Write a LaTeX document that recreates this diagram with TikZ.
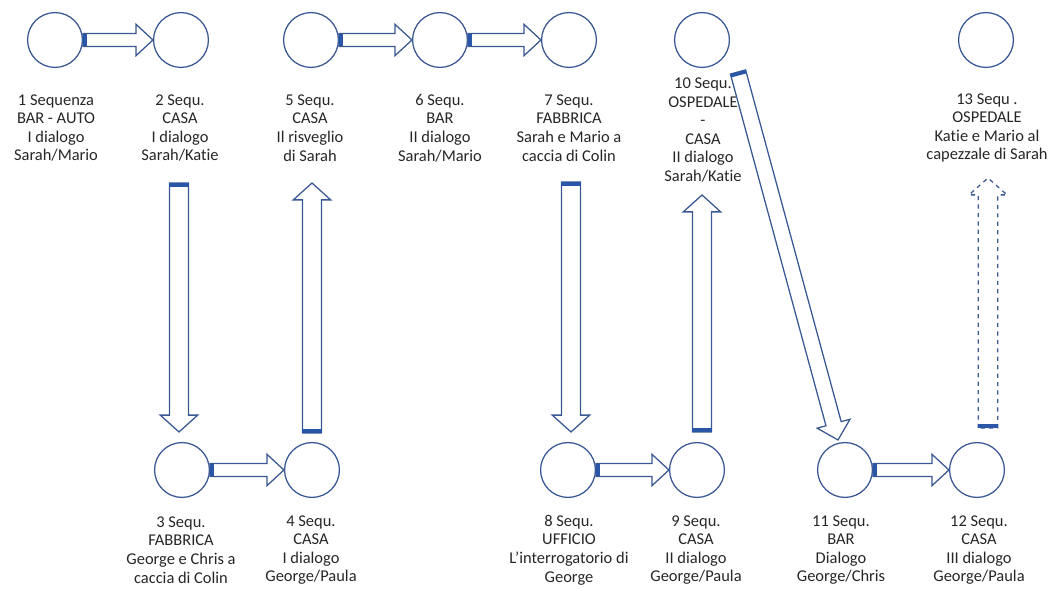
\documentclass[tikz,border=0pt]{standalone}
\usepackage{fontspec}
\setmainfont{Carlito}[Ligatures=NoCommon]
\usetikzlibrary{calc}
\definecolor{seqblue}{RGB}{58, 88, 148}
\definecolor{taildark}{RGB}{42, 86, 168}
\tikzset{
	seq/.style={circle, draw=seqblue, line width=0.9pt, minimum size=39pt, inner sep=0pt},
	lbl/.style={align=center, inner sep=0pt, font=\fontsize{11.7}{13.2}\selectfont, text=black!85},
	blockline/.style={draw=seqblue, line width=0.9pt, fill=white, line join=miter},
	tailfill/.style={fill=taildark}
}
\newcommand{\seqarrow}[4][]{%
	\coordinate (sa-a) at (#3);
	\coordinate (sa-b) at (#4);
	\coordinate (sa-h) at ($(sa-b)!12pt!(sa-a)$);
	\coordinate (sa-t) at ($(sa-a)!2.5pt!(sa-b)$);
	\pgfmathsetlengthmacro\seqhead{#2+6.5pt}
	\draw[blockline,#1] ($(sa-a)!#2!90:(sa-b)$) -- ($(sa-h)!#2!90:(sa-b)$) -- ($(sa-h)!\seqhead!90:(sa-b)$) -- (sa-b)
		-- ($(sa-h)!\seqhead!-90:(sa-b)$) -- ($(sa-h)!#2!-90:(sa-b)$) -- ($(sa-a)!#2!-90:(sa-b)$) -- cycle;
	\fill[tailfill] ($(sa-a)!#2!90:(sa-b)$) -- ($(sa-t)!#2!90:(sa-b)$) -- ($(sa-t)!#2!-90:(sa-b)$) -- ($(sa-a)!#2!-90:(sa-b)$) -- cycle;
}
\begin{document}
\begin{tikzpicture}[x=0.025cm, y=-0.025cm]
	\useasboundingbox (0,0) rectangle (1055,589);
	\node[seq] (c1) at (55,40) {};
	\node[seq] (c2) at (181,40) {};
	\node[seq] (c5) at (311,40) {};
	\node[seq] (c6) at (440,40) {};
	\node[seq] (c7) at (569,40) {};
	\node[seq] (c10) at (702,40) {};
	\node[seq] (c13) at (986,40) {};
	\node[seq] (c3) at (182,470) {};
	\node[seq] (c4) at (312,470) {};
	\node[seq] (c8) at (568,470) {};
	\node[seq] (c9) at (697,470) {};
	\node[seq] (c11) at (845,470) {};
	\node[seq] (c12) at (977,470) {};
	\node[lbl] (l1) at (56,128) {1 Sequenza\\BAR - AUTO\\I dialogo\\Sarah/Mario};
	\node[lbl] (l2) at (180,128) {2 Sequ.\\CASA\\I dialogo\\Sarah/Katie};
	\node[lbl] (l5) at (310,128) {5 Sequ.\\CASA\\Il risveglio\\di Sarah};
	\node[lbl] (l6) at (440,128) {6 Sequ.\\BAR\\II dialogo\\Sarah/Mario};
	\node[lbl] (l7) at (569,128) {7 Sequ.\\FABBRICA\\Sarah e Mario a\\caccia di Colin};
	\node[lbl] (l10) at (703,130) {10 Sequ.\\OSPEDALE\\-\\CASA\\II dialogo\\Sarah/Katie};
	\node[lbl] (l13) at (987,128) {13 Sequ .\\OSPEDALE\\Katie e Mario al\\capezzale di Sarah};
	\node[lbl] (l3) at (181,550) {3 Sequ.\\FABBRICA\\George e Chris a\\caccia di Colin};
	\node[lbl] (l4) at (311,550) {4 Sequ.\\CASA\\I dialogo\\George/Paula};
	\node[lbl] (l8) at (569,550) {8 Sequ.\\UFFICIO\\L’interrogatorio di\\George};
	\node[lbl] (l9) at (696,550) {9 Sequ.\\CASA\\II dialogo\\George/Paula};
	\node[lbl] (l11) at (841,550) {11 Sequ.\\BAR\\Dialogo\\George/Chris};
	\node[lbl] (l12) at (979,550) {12 Sequ.\\CASA\\III dialogo\\George/Paula};
	\seqarrow{4.6pt}{c1.east}{c2.west}
	\seqarrow{4.6pt}{c5.east}{c6.west}
	\seqarrow{4.6pt}{c6.east}{c7.west}
	\seqarrow{4.6pt}{c3.east}{c4.west}
	\seqarrow{4.6pt}{c8.east}{c9.west}
	\seqarrow{4.6pt}{c11.east}{c12.west}
	\seqarrow{6.8pt}{[shift={(-2,143)}]c2.center}{[shift={(-3,-38)}]c3.center}
	\seqarrow{6.8pt}{[shift={(0,-37)}]c4.center}{[shift={(1,143)}]c5.center}
	\seqarrow{6.8pt}{[shift={(2,142)}]c7.center}{[shift={(3,-38)}]c8.center}
	\seqarrow{6.8pt}{[shift={(5,-38)}]c9.center}{[shift={(0,155)}]c10.center}
	\seqarrow{5.6pt}{[shift={(36,32)}]c10.center}{[shift={(-7,-30)}]c11.center}
	\seqarrow[dashed]{7pt}{[shift={(11,-42)}]c12.center}{[shift={(2,138)}]c13.center}
\end{tikzpicture}
\end{document}
